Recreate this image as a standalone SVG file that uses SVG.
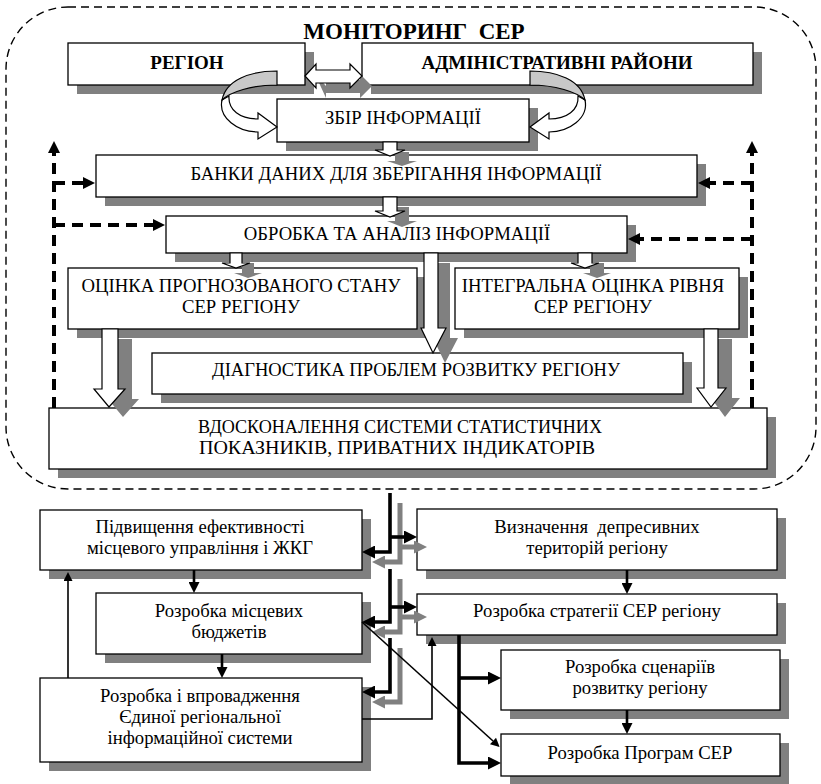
<svg xmlns="http://www.w3.org/2000/svg" xmlns:xlink="http://www.w3.org/1999/xlink" width="821" height="784" viewBox="0 0 821 784">
<style>
.box{fill:#fff;stroke:#000;stroke-width:1.3}
.sh{fill:#808080}
.t{font-family:"Liberation Serif","Times New Roman",serif;font-size:18.7px;text-anchor:middle;fill:#000}
.b{font-weight:bold;font-size:19px}
.ttl{font-family:"Liberation Serif","Times New Roman",serif;font-weight:bold;font-size:23px;text-anchor:middle;fill:#000}
.dash{stroke:#000;stroke-width:4;stroke-dasharray:11 7;fill:none}
.outer{fill:none;stroke:#000;stroke-width:1.4;stroke-dasharray:8 5}
.blk{fill:#fff;stroke:#000;stroke-width:1.2}
.bsh{fill:#808080}
.thin{stroke:#000;stroke-width:1.6;fill:none}
.mid{stroke:#000;stroke-width:2.6;fill:none}
.thick{stroke:#000;stroke-width:3.6;fill:none}
.gthick{stroke:#808080;stroke-width:5;fill:none}
</style>
<defs>
<marker id="hd" viewBox="0 0 10 10" refX="0" refY="5" markerWidth="13" markerHeight="12" markerUnits="userSpaceOnUse" orient="auto"><path d="M0,0 L10,5 L0,10 Z" fill="#000"/></marker>
<marker id="hk" viewBox="0 0 10 10" refX="0" refY="5" markerWidth="13" markerHeight="13" markerUnits="userSpaceOnUse" orient="auto"><path d="M0,0 L10,5 L0,10 Z" fill="#000"/></marker>
<marker id="hg" viewBox="0 0 10 10" refX="0" refY="5" markerWidth="13" markerHeight="13" markerUnits="userSpaceOnUse" orient="auto"><path d="M0,0 L10,5 L0,10 Z" fill="#808080"/></marker>
<marker id="hn" viewBox="0 0 10 10" refX="0" refY="5" markerWidth="11" markerHeight="9" markerUnits="userSpaceOnUse" orient="auto"><path d="M0,0 L10,5 L0,10 Z" fill="#000"/></marker>
<marker id="hm" viewBox="0 0 10 10" refX="0" refY="5" markerWidth="11" markerHeight="11" markerUnits="userSpaceOnUse" orient="auto"><path d="M0,0 L10,5 L0,10 Z" fill="#000"/></marker>
<g id="curl">
<path class="blk" d="M222 100 C218 118 238 132 258 132 L258 139 L277 127 L258 113 L258 119 C240 119 228 110 229 96 Z"/>
<path d="M277 71 C250 71 226 80 222 100 C230 92 252 85 277 85 Z" fill="#c8c8c8" stroke="#000" stroke-width="1.2"/>
</g>
</defs>

<rect class="outer" x="6" y="7" width="810" height="482" rx="62" ry="62"/>
<text class="ttl" x="414" y="39" xml:space="preserve">МОНІТОРИНГ  СЕР</text>

<g id="region"><rect class="sh" x="77" y="52" width="237" height="42"/><rect class="box" x="68" y="43" width="237" height="42"/><text class="t b" x="187" y="69">РЕГІОН</text></g>
<g id="districts"><rect class="sh" x="371" y="52" width="391" height="42"/><rect class="box" x="362" y="43" width="391" height="42"/><text class="t b" x="557" y="69">АДМІНІСТРАТИВНІ РАЙОНИ</text></g>
<g id="collect"><rect class="sh" x="286" y="108" width="252" height="43"/><rect class="box" x="277" y="99" width="252" height="43"/><text class="t" x="403" y="124">ЗБІР ІНФОРМАЦІЇ</text></g>
<g id="banks"><rect class="sh" x="105" y="164" width="601" height="42"/><rect class="box" x="96" y="155" width="601" height="42"/><text class="t" x="396" y="180">БАНКИ ДАНИХ ДЛЯ ЗБЕРІГАННЯ ІНФОРМАЦІЇ</text></g>
<g id="processing"><rect class="sh" x="175" y="225" width="461" height="37"/><rect class="box" x="166" y="216" width="461" height="37"/><text class="t" x="397" y="240">ОБРОБКА ТА АНАЛІЗ ІНФОРМАЦІЇ</text></g>
<g id="forecast"><rect class="sh" x="77" y="277" width="349" height="61"/><rect class="box" x="68" y="268" width="349" height="61"/><text class="t" x="241" y="292">ОЦІНКА ПРОГНОЗОВАНОГО СТАНУ</text><text class="t" x="241" y="313">СЕР РЕГІОНУ</text></g>
<g id="integral"><rect class="sh" x="464" y="277" width="284" height="61"/><rect class="box" x="455" y="268" width="284" height="61"/><text class="t" x="593" y="292">ІНТЕГРАЛЬНА ОЦІНКА РІВНЯ</text><text class="t" x="593" y="313">СЕР РЕГІОНУ</text></g>
<g id="diagnostics"><rect class="sh" x="161" y="362" width="531" height="41"/><rect class="box" x="152" y="353" width="531" height="41"/><text class="t" x="416" y="376" textLength="408" lengthAdjust="spacingAndGlyphs">ДІАГНОСТИКА ПРОБЛЕМ РОЗВИТКУ РЕГІОНУ</text></g>
<g id="improve"><rect class="sh" x="58" y="417" width="718" height="61"/><rect class="box" x="49" y="408" width="718" height="61"/><text class="t" x="400" y="433" textLength="404" lengthAdjust="spacingAndGlyphs">ВДОСКОНАЛЕННЯ СИСТЕМИ СТАТИСТИЧНИХ</text><text class="t" x="397" y="454" textLength="396" lengthAdjust="spacingAndGlyphs">ПОКАЗНИКІВ, ПРИВАТНИХ ІНДИКАТОРІВ</text></g>

<g id="efficiency"><rect class="sh" x="49" y="519" width="322" height="60"/><rect class="box" x="40" y="510" width="322" height="60"/><text class="t" x="200" y="533">Підвищення ефективності</text><text class="t" x="200" y="554">місцевого управління і ЖКГ</text></g>
<g id="budgets"><rect class="sh" x="105" y="602" width="266" height="61"/><rect class="box" x="96" y="593" width="266" height="61"/><text class="t" x="229" y="617">Розробка місцевих</text><text class="t" x="229" y="638">бюджетів</text></g>
<g id="infosystem"><rect class="sh" x="49" y="687" width="322" height="84"/><rect class="box" x="40" y="678" width="322" height="84"/><text class="t" x="200" y="702">Розробка і впровадження</text><text class="t" x="200" y="723">Єдиної регіональної</text><text class="t" x="200" y="744">інформаційної системи</text></g>
<g id="depressed"><rect class="sh" x="426" y="518" width="360" height="61"/><rect class="box" x="417" y="509" width="360" height="61"/><text class="t" x="597" y="533" xml:space="preserve">Визначення  депресивних</text><text class="t" x="597" y="554">територій регіону</text></g>
<g id="strategy"><rect class="sh" x="426" y="603" width="360" height="41"/><rect class="box" x="417" y="594" width="360" height="41"/><text class="t" x="597" y="617">Розробка стратегії СЕР регіону</text></g>
<g id="scenarios"><rect class="sh" x="510" y="659" width="279" height="60"/><rect class="box" x="501" y="650" width="279" height="60"/><text class="t" x="640" y="673">Розробка сценаріїв</text><text class="t" x="640" y="694">розвитку регіону</text></g>
<g id="programs"><rect class="sh" x="510" y="743" width="279" height="41"/><rect class="box" x="501" y="734" width="279" height="42"/><text class="t" x="640" y="759">Розробка Програм СЕР</text></g>

<g id="connectors">
<path class="bsh" d="M315 74 L326 86 L326 80 L360 80 L360 74 L372 86 L360 98 L360 93 L326 93 L326 98 Z"/>
<path class="blk" d="M305 76 L316 64 L316 70 L350 70 L350 64 L362 76 L350 88 L350 83 L316 83 L316 88 Z"/>
<use xlink:href="#curl"/>
<use xlink:href="#curl" transform="translate(807,0) scale(-1,1)"/>

<path class="bsh" d="M395 152 H409 V161 H417 L402 166 L387 161 H395 Z"/>
<path class="blk" d="M383 142 H397 V150 H405 L390 156 L375 150 H383 Z"/>
<path class="bsh" d="M395 207 H409 V221 H417 L402 227 L387 221 H395 Z"/>
<path class="blk" d="M383 197 H397 V211 H405 L390 217 L375 211 H383 Z"/>
<path class="bsh" d="M242 263 H254 V273 H262 L248 278 L234 273 H242 Z"/>
<path class="blk" d="M230 253 H242 V263 H250 L236 268 L222 263 H230 Z"/>
<path class="bsh" d="M590 263 H604 V273 H611 L597 278 L583 273 H590 Z"/>
<path class="blk" d="M578 253 H592 V263 H599 L585 268 L571 263 H578 Z"/>
<path class="bsh" d="M436 263 H450 V338 H458 L445 363 L433 338 H436 Z"/>
<path class="blk" d="M424 253 H438 V328 H446 L433 353 L421 328 H424 Z"/>
<path class="bsh" d="M116 339 H132 V399 H139 L123 417 L108 399 H116 Z"/>
<path class="blk" d="M102 329 H118 V389 H125 L109 407 L94 389 H102 Z"/>
<path class="bsh" d="M718 339 H732 V398 H740 L725 417 L711 398 H718 Z"/>
<path class="blk" d="M704 329 H718 V388 H726 L711 407 L697 388 H704 Z"/>

<path class="dash" d="M54 408 V153" marker-end="url(#hd)"/>
<path class="dash" d="M54 183 H83" marker-end="url(#hd)"/>
<path class="dash" d="M54 225 H153" marker-end="url(#hd)"/>
<path class="dash" d="M752 408 V153" marker-end="url(#hd)"/>
<path class="dash" d="M752 183 H710" marker-end="url(#hd)"/>
<path class="dash" d="M752 239 H640" marker-end="url(#hd)"/>

<path class="gthick" d="M400 503 V562 H385" marker-end="url(#hg)"/>
<path class="gthick" d="M400 547 H414" marker-end="url(#hg)"/>
<path class="gthick" d="M400 579 V632 H385" marker-end="url(#hg)"/>
<path class="gthick" d="M400 617 H414" marker-end="url(#hg)"/>
<path class="gthick" d="M400 648 V702 H385" marker-end="url(#hg)"/>
<path class="thick" d="M390 493 V552 H375" marker-end="url(#hk)"/>
<path class="thick" d="M390 537 H404" marker-end="url(#hk)"/>
<path class="thick" d="M390 569 V622 H375" marker-end="url(#hk)"/>
<path class="thick" d="M390 607 H404" marker-end="url(#hk)"/>
<path class="thick" d="M390 638 V692 H375" marker-end="url(#hk)"/>

<path class="thin" d="M68 678 V581" marker-end="url(#hn)"/>
<path class="mid" d="M194 570 V582" marker-end="url(#hm)"/>
<path class="mid" d="M222 654 V667" marker-end="url(#hm)"/>
<path class="mid" d="M627 570 V583" marker-end="url(#hm)"/>
<path class="mid" d="M627 710 V723" marker-end="url(#hm)"/>
<path class="thin" d="M362 622 L493 741" marker-end="url(#hn)"/>
<path class="thin" d="M362 719 H432 V646" marker-end="url(#hn)"/>
<path class="thick" d="M459 635 V763 H488" marker-end="url(#hk)"/>
<path class="thick" d="M459 678 H488" marker-end="url(#hk)"/>
</g>
</svg>
